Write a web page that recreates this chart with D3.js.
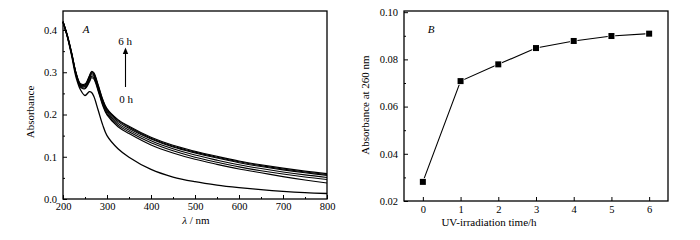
<!DOCTYPE html>
<html>
<head>
<meta charset="utf-8">
<script src="https://cdn.jsdelivr.net/npm/d3@7"></script>
<style>
    body { margin: 0; background: #fff; }
    svg { display: block; }
    svg text { font-family: "Liberation Serif", "DejaVu Serif", serif; }
</style>
</head>
<body>
<div id="chart"></div>
<script>
// Longitudes de onda (nm) del panel A
const wavelengths = [200, 210, 220, 230, 240, 250, 260, 265, 270, 280, 290, 300, 325, 350, 400, 450, 500, 550, 600, 650, 700, 750, 800];

// Espectros de absorción para cada tiempo de irradiación
const spectrum0h = [0.420, 0.384, 0.337, 0.287, 0.258, 0.245, 0.254, 0.252, 0.243, 0.210, 0.176, 0.150, 0.119, 0.099, 0.070, 0.052, 0.041, 0.033, 0.027, 0.022, 0.018, 0.015, 0.013];
const spectrum1h = [0.418, 0.383, 0.340, 0.292, 0.264, 0.261, 0.277, 0.287, 0.284, 0.255, 0.222, 0.199, 0.171, 0.155, 0.128, 0.109, 0.094, 0.082, 0.071, 0.062, 0.053, 0.045, 0.038];
const spectrum2h = [0.418, 0.384, 0.341, 0.293, 0.266, 0.263, 0.280, 0.290, 0.287, 0.258, 0.225, 0.202, 0.175, 0.159, 0.133, 0.114, 0.099, 0.087, 0.076, 0.067, 0.059, 0.052, 0.046];
const spectrum3h = [0.419, 0.385, 0.342, 0.295, 0.268, 0.266, 0.284, 0.294, 0.291, 0.262, 0.229, 0.206, 0.179, 0.163, 0.138, 0.119, 0.104, 0.092, 0.081, 0.072, 0.064, 0.057, 0.051];
const spectrum4h = [0.419, 0.386, 0.343, 0.296, 0.270, 0.268, 0.287, 0.297, 0.294, 0.265, 0.232, 0.209, 0.183, 0.167, 0.142, 0.123, 0.109, 0.097, 0.086, 0.077, 0.069, 0.062, 0.056];
const spectrum5h = [0.420, 0.387, 0.344, 0.297, 0.271, 0.270, 0.290, 0.300, 0.297, 0.268, 0.235, 0.212, 0.186, 0.170, 0.144, 0.125, 0.111, 0.099, 0.088, 0.079, 0.071, 0.064, 0.058];
const spectrum6h = [0.420, 0.388, 0.345, 0.298, 0.273, 0.272, 0.292, 0.302, 0.299, 0.270, 0.237, 0.214, 0.188, 0.172, 0.146, 0.127, 0.113, 0.101, 0.090, 0.081, 0.073, 0.066, 0.060];

// Panel B: absorbancia a 260 nm frente al tiempo de irradiación
const irradiationHours = [0, 1, 2, 3, 4, 5, 6];
const absorbance260 = [0.0281, 0.0708, 0.0779, 0.0848, 0.0878, 0.0899, 0.0909];

// Etiquetas de los ejes
const ticksA_x = [200, 300, 400, 500, 600, 700, 800];
const ticksA_y = [0.0, 0.1, 0.2, 0.3, 0.4];
const ticksB_x = [0, 1, 2, 3, 4, 5, 6];
const ticksB_y = [0.02, 0.04, 0.06, 0.08, 0.10];

const svg = d3.select("#chart").append("svg")
    .attr("width", 700)
    .attr("height", 240);

/**
 * Dibuja un eje con marcas hacia dentro (estilo Origin).
 */
function drawAxis(g, axis, minor, transform) {
    g.append("g").attr("transform", transform).call(minor)
        .call(s => s.select(".domain").remove())
        .call(s => s.selectAll("text").remove())
        .call(s => s.selectAll("line").attr("stroke", "#000").attr("stroke-width", 1));
    g.append("g").attr("transform", transform).call(axis)
        .attr("font-family", null)
        .call(s => s.select(".domain").remove())
        .call(s => s.selectAll("line").attr("stroke", "#000").attr("stroke-width", 1))
        .call(s => s.selectAll("text").attr("fill", "#000").attr("font-size", "10.5px"));
}

// ---------------- Panel A ----------------
const xA = d3.scaleLinear().domain([200, 800]).range([63, 327]);
const yA = d3.scaleLinear().domain([0, 0.445]).range([199, 11]);
const gA = svg.append("g");

drawAxis(gA,
    d3.axisBottom(xA).tickValues(ticksA_x).tickFormat(d3.format("d")).tickSizeInner(-4).tickSizeOuter(0).tickPadding(4),
    d3.axisBottom(xA).tickValues(d3.range(250, 800, 100)).tickSizeInner(-2).tickSizeOuter(0),
    `translate(0,${yA.range()[0]})`);
drawAxis(gA,
    d3.axisLeft(yA).tickValues(ticksA_y).tickFormat(d3.format(".1f")).tickSizeInner(-4).tickSizeOuter(0).tickPadding(6),
    d3.axisLeft(yA).tickValues([0.05, 0.15, 0.25, 0.35]).tickSizeInner(-2).tickSizeOuter(0),
    `translate(${xA.range()[0]},0)`);

const spectra = [spectrum0h, spectrum1h, spectrum2h, spectrum3h, spectrum4h, spectrum5h, spectrum6h];
const lineA = d3.line()
    .x((d, i) => xA(wavelengths[i]))
    .y(d => yA(d))
    .curve(d3.curveCatmullRom.alpha(0.5));

gA.append("g")
    .selectAll("path")
    .data(spectra)
    .join("path")
    .attr("d", lineA)
    .attr("fill", "none")
    .attr("stroke", "#000")
    .attr("stroke-width", (d, i) => i === 0 ? 1.3 : 1.1);

// Marco del panel
gA.append("rect")
    .attr("x", xA.range()[0]).attr("y", yA.range()[1])
    .attr("width", xA.range()[1] - xA.range()[0])
    .attr("height", yA.range()[0] - yA.range()[1])
    .attr("fill", "none").attr("stroke", "#000").attr("stroke-width", 1.3);

// Anotaciones
gA.append("text").attr("x", 86).attr("y", 33).attr("text-anchor", "middle")
    .attr("font-size", "11px").attr("font-style", "italic").text("A");
gA.append("text").attr("x", 125).attr("y", 45).attr("text-anchor", "middle")
    .attr("font-size", "11px").text("6 h");
gA.append("text").attr("x", 126).attr("y", 103).attr("text-anchor", "middle")
    .attr("font-size", "11px").text("0 h");
gA.append("line").attr("x1", 125.5).attr("x2", 125.5).attr("y1", 87).attr("y2", 53)
    .attr("stroke", "#000").attr("stroke-width", 1.1);
gA.append("path").attr("d", "M122.8,54 L125.5,47.5 L128.2,54 Z").attr("fill", "#000");

// Títulos de ejes
gA.append("text")
    .attr("transform", "translate(34,112) rotate(-90)")
    .attr("text-anchor", "middle").attr("font-size", "11px").text("Absorbance");
const xTitleA = gA.append("text").attr("x", 196).attr("y", 224)
    .attr("text-anchor", "middle").attr("font-size", "11px");
xTitleA.append("tspan").attr("font-style", "italic").text("λ");
xTitleA.append("tspan").text(" / nm");

// ---------------- Panel B ----------------
const xB = d3.scaleLinear().domain([-0.5, 6.5]).range([404, 668]);
const yB = d3.scaleLinear().domain([0.02, 0.1005]).range([201, 11]);
const gB = svg.append("g");

drawAxis(gB,
    d3.axisBottom(xB).tickValues(ticksB_x).tickFormat(d3.format("d")).tickSizeInner(-4).tickSizeOuter(0).tickPadding(5),
    d3.axisBottom(xB).tickValues([]).tickSizeOuter(0),
    `translate(0,${yB.range()[0]})`);
drawAxis(gB,
    d3.axisLeft(yB).tickValues(ticksB_y).tickFormat(d3.format(".2f")).tickSizeInner(-4).tickSizeOuter(0).tickPadding(6),
    d3.axisLeft(yB).tickValues([0.03, 0.05, 0.07, 0.09]).tickSizeInner(-2).tickSizeOuter(0),
    `translate(${xB.range()[0]},0)`);

const lineB = d3.line()
    .x((d, i) => xB(irradiationHours[i]))
    .y(d => yB(d));

gB.append("path")
    .datum(absorbance260)
    .attr("d", lineB)
    .attr("fill", "none")
    .attr("stroke", "#000")
    .attr("stroke-width", 1.1);

// Marcadores cuadrados con borde blanco (hueco en la línea)
gB.append("g")
    .selectAll("rect")
    .data(absorbance260)
    .join("rect")
    .attr("x", (d, i) => xB(irradiationHours[i]) - 3)
    .attr("y", d => yB(d) - 3)
    .attr("width", 6)
    .attr("height", 6)
    .attr("fill", "#000")
    .attr("stroke", "#fff")
    .attr("stroke-width", 1.5)
    .attr("paint-order", "stroke");

gB.append("rect")
    .attr("x", xB.range()[0]).attr("y", yB.range()[1])
    .attr("width", xB.range()[1] - xB.range()[0])
    .attr("height", yB.range()[0] - yB.range()[1])
    .attr("fill", "none").attr("stroke", "#000").attr("stroke-width", 1.3);

gB.append("text").attr("x", 431).attr("y", 33).attr("text-anchor", "middle")
    .attr("font-size", "11px").attr("font-style", "italic").text("B");

gB.append("text")
    .attr("transform", "translate(369,105) rotate(-90)")
    .attr("text-anchor", "middle").attr("font-size", "11px").text("Absorbance at 260 nm");
gB.append("text").attr("x", 489).attr("y", 226)
    .attr("text-anchor", "middle").attr("font-size", "11px").text("UV-irradiation time/h");
</script>
</body>
</html>
